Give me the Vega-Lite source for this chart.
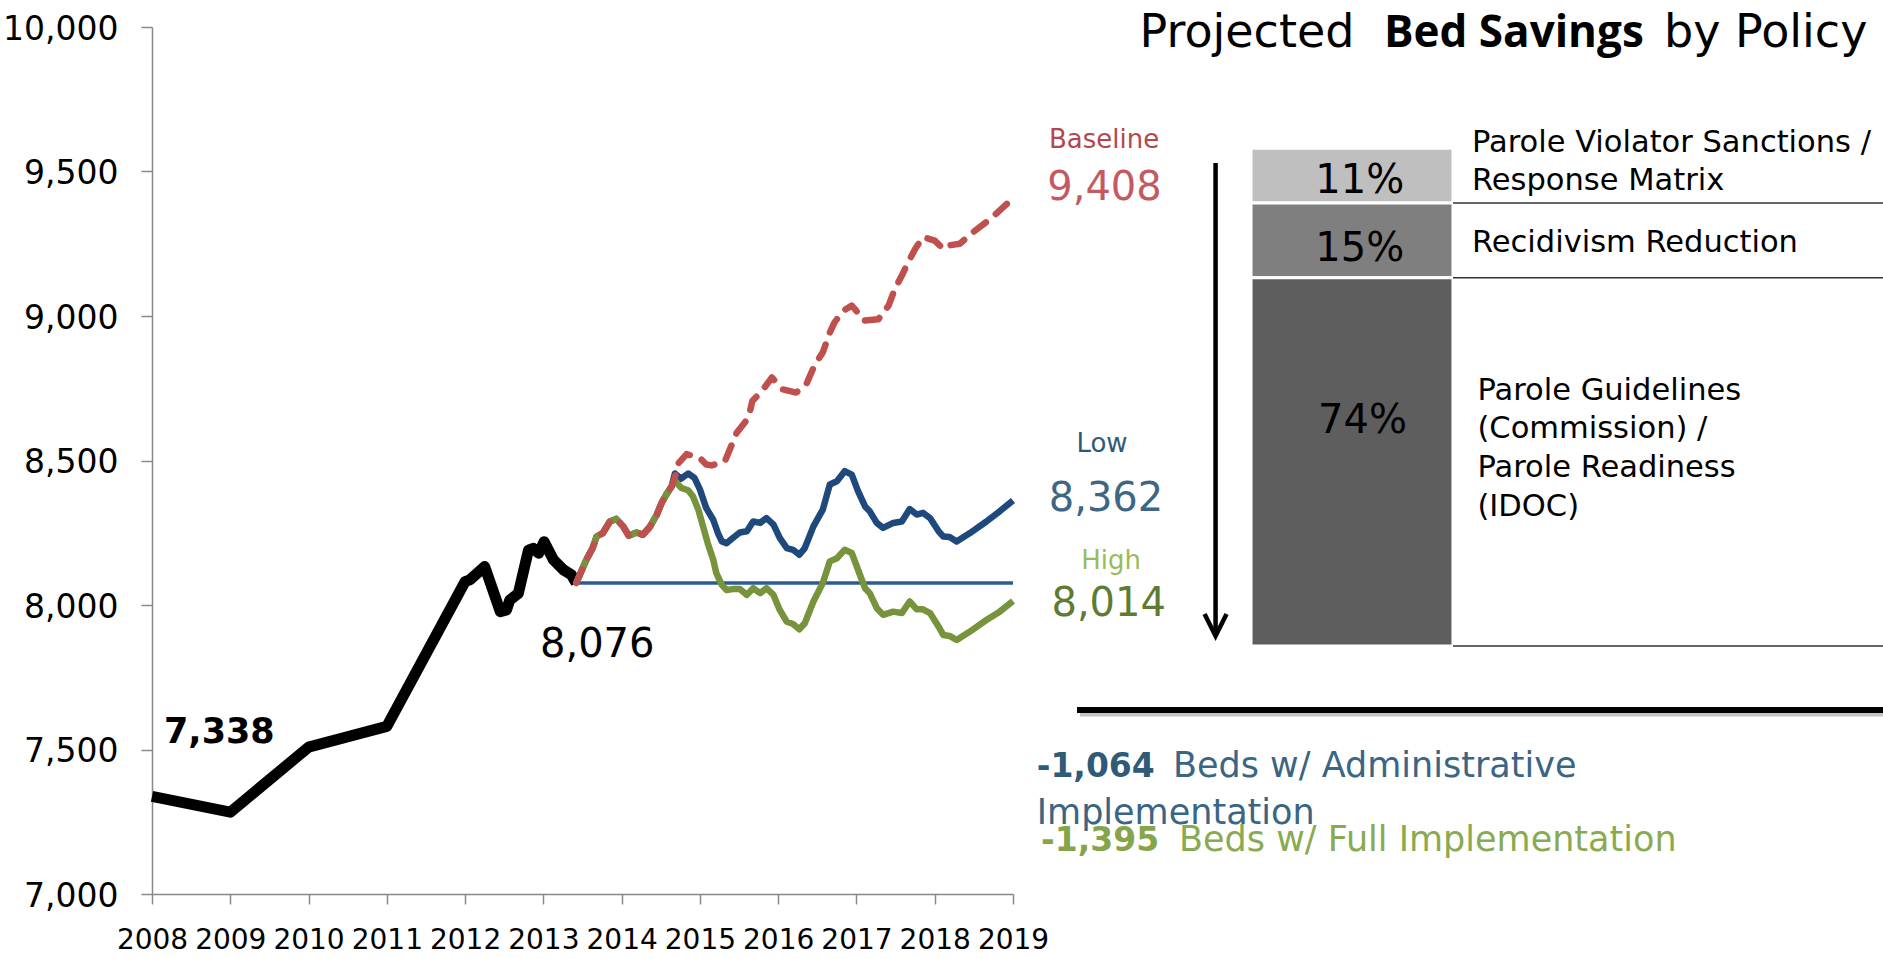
{
  "$schema": "https://vega.github.io/schema/vega-lite/v6.json",
  "width": 861,
  "height": 867,
  "autosize": {"type": "none"},
  "padding": {"left": 152, "top": 27, "right": 870, "bottom": 65},
  "background": "white",
  "config": {"view": {"stroke": null}, "font": "DejaVu Sans"},
  "datasets": {
    "history": [
      {"year": 2008, "beds": 7338}, {"year": 2009, "beds": 7283}, {"year": 2010, "beds": 7508}, {"year": 2011, "beds": 7580},
      {"year": 2012, "beds": 8081}, {"year": 2012.06, "beds": 8087}, {"year": 2012.25, "beds": 8133}, {"year": 2012.45, "beds": 7977},
      {"year": 2012.53, "beds": 7983}, {"year": 2012.57, "beds": 8017}, {"year": 2012.68, "beds": 8040}, {"year": 2012.81, "beds": 8190},
      {"year": 2012.87, "beds": 8196}, {"year": 2012.94, "beds": 8179}, {"year": 2013.01, "beds": 8219}, {"year": 2013.13, "beds": 8156},
      {"year": 2013.26, "beds": 8121}, {"year": 2013.36, "beds": 8104}, {"year": 2013.42, "beds": 8076}
    ],
    "current": [
      {"year": 2013.42, "beds": 8076}, {"year": 2019, "beds": 8076}
    ],
    "projection": [
      {"series": "Baseline", "year": 2013.42, "beds": 8076}, {"series": "Baseline", "year": 2013.55, "beds": 8157}, {"series": "Baseline", "year": 2013.63, "beds": 8197}, {"series": "Baseline", "year": 2013.68, "beds": 8237},
      {"series": "Baseline", "year": 2013.76, "beds": 8249}, {"series": "Baseline", "year": 2013.85, "beds": 8289}, {"series": "Baseline", "year": 2013.93, "beds": 8298}, {"series": "Baseline", "year": 2014.02, "beds": 8272},
      {"series": "Baseline", "year": 2014.09, "beds": 8240}, {"series": "Baseline", "year": 2014.19, "beds": 8251}, {"series": "Baseline", "year": 2014.27, "beds": 8243}, {"series": "Baseline", "year": 2014.36, "beds": 8270},
      {"series": "Baseline", "year": 2014.45, "beds": 8313}, {"series": "Baseline", "year": 2014.51, "beds": 8353}, {"series": "Baseline", "year": 2014.57, "beds": 8382}, {"series": "Baseline", "year": 2014.64, "beds": 8411},
      {"series": "Baseline", "year": 2014.68, "beds": 8440}, {"series": "Baseline", "year": 2014.72, "beds": 8489}, {"series": "Baseline", "year": 2014.83, "beds": 8522}, {"series": "Baseline", "year": 2015.0, "beds": 8509},
      {"series": "Baseline", "year": 2015.08, "beds": 8486}, {"series": "Baseline", "year": 2015.15, "beds": 8483}, {"series": "Baseline", "year": 2015.32, "beds": 8498}, {"series": "Baseline", "year": 2015.4, "beds": 8550},
      {"series": "Baseline", "year": 2015.47, "beds": 8596}, {"series": "Baseline", "year": 2015.62, "beds": 8648}, {"series": "Baseline", "year": 2015.67, "beds": 8706}, {"series": "Baseline", "year": 2015.79, "beds": 8740},
      {"series": "Baseline", "year": 2015.92, "beds": 8787}, {"series": "Baseline", "year": 2016.06, "beds": 8746}, {"series": "Baseline", "year": 2016.23, "beds": 8735}, {"series": "Baseline", "year": 2016.36, "beds": 8764},
      {"series": "Baseline", "year": 2016.47, "beds": 8833}, {"series": "Baseline", "year": 2016.57, "beds": 8874}, {"series": "Baseline", "year": 2016.66, "beds": 8943}, {"series": "Baseline", "year": 2016.72, "beds": 8978},
      {"series": "Baseline", "year": 2016.83, "beds": 9018}, {"series": "Baseline", "year": 2016.94, "beds": 9036}, {"series": "Baseline", "year": 2016.98, "beds": 9024}, {"series": "Baseline", "year": 2017.09, "beds": 8984},
      {"series": "Baseline", "year": 2017.28, "beds": 8989}, {"series": "Baseline", "year": 2017.41, "beds": 9036}, {"series": "Baseline", "year": 2017.49, "beds": 9093}, {"series": "Baseline", "year": 2017.58, "beds": 9140},
      {"series": "Baseline", "year": 2017.66, "beds": 9186}, {"series": "Baseline", "year": 2017.75, "beds": 9232}, {"series": "Baseline", "year": 2017.85, "beds": 9273}, {"series": "Baseline", "year": 2018.0, "beds": 9261},
      {"series": "Baseline", "year": 2018.11, "beds": 9232}, {"series": "Baseline", "year": 2018.17, "beds": 9244}, {"series": "Baseline", "year": 2018.32, "beds": 9250}, {"series": "Baseline", "year": 2018.49, "beds": 9290},
      {"series": "Baseline", "year": 2018.66, "beds": 9325}, {"series": "Baseline", "year": 2018.81, "beds": 9360}, {"series": "Baseline", "year": 2019.0, "beds": 9408},

      {"series": "Low", "year": 2013.42, "beds": 8076}, {"series": "Low", "year": 2013.55, "beds": 8157}, {"series": "Low", "year": 2013.63, "beds": 8197}, {"series": "Low", "year": 2013.68, "beds": 8237},
      {"series": "Low", "year": 2013.76, "beds": 8249}, {"series": "Low", "year": 2013.85, "beds": 8289}, {"series": "Low", "year": 2013.93, "beds": 8298}, {"series": "Low", "year": 2014.02, "beds": 8272},
      {"series": "Low", "year": 2014.09, "beds": 8240}, {"series": "Low", "year": 2014.19, "beds": 8251}, {"series": "Low", "year": 2014.27, "beds": 8243}, {"series": "Low", "year": 2014.36, "beds": 8270},
      {"series": "Low", "year": 2014.45, "beds": 8313}, {"series": "Low", "year": 2014.51, "beds": 8353}, {"series": "Low", "year": 2014.57, "beds": 8382}, {"series": "Low", "year": 2014.64, "beds": 8411},
      {"series": "Low", "year": 2014.68, "beds": 8455}, {"series": "Low", "year": 2014.76, "beds": 8437}, {"series": "Low", "year": 2014.85, "beds": 8455}, {"series": "Low", "year": 2014.93, "beds": 8440},
      {"series": "Low", "year": 2015.0, "beds": 8400}, {"series": "Low", "year": 2015.08, "beds": 8336}, {"series": "Low", "year": 2015.17, "beds": 8295}, {"series": "Low", "year": 2015.23, "beds": 8249},
      {"series": "Low", "year": 2015.28, "beds": 8220}, {"series": "Low", "year": 2015.34, "beds": 8214}, {"series": "Low", "year": 2015.42, "beds": 8232}, {"series": "Low", "year": 2015.51, "beds": 8251},
      {"series": "Low", "year": 2015.6, "beds": 8255}, {"series": "Low", "year": 2015.68, "beds": 8289}, {"series": "Low", "year": 2015.77, "beds": 8284}, {"series": "Low", "year": 2015.85, "beds": 8301},
      {"series": "Low", "year": 2015.94, "beds": 8278}, {"series": "Low", "year": 2016.02, "beds": 8232}, {"series": "Low", "year": 2016.11, "beds": 8197}, {"series": "Low", "year": 2016.19, "beds": 8191},
      {"series": "Low", "year": 2016.27, "beds": 8174}, {"series": "Low", "year": 2016.34, "beds": 8197}, {"series": "Low", "year": 2016.45, "beds": 8272}, {"series": "Low", "year": 2016.57, "beds": 8330},
      {"series": "Low", "year": 2016.66, "beds": 8417}, {"series": "Low", "year": 2016.75, "beds": 8428}, {"series": "Low", "year": 2016.85, "beds": 8463}, {"series": "Low", "year": 2016.94, "beds": 8451},
      {"series": "Low", "year": 2017.02, "beds": 8394}, {"series": "Low", "year": 2017.11, "beds": 8341}, {"series": "Low", "year": 2017.17, "beds": 8324}, {"series": "Low", "year": 2017.26, "beds": 8284},
      {"series": "Low", "year": 2017.34, "beds": 8267}, {"series": "Low", "year": 2017.47, "beds": 8284}, {"series": "Low", "year": 2017.58, "beds": 8289}, {"series": "Low", "year": 2017.68, "beds": 8332},
      {"series": "Low", "year": 2017.77, "beds": 8313}, {"series": "Low", "year": 2017.85, "beds": 8319}, {"series": "Low", "year": 2017.94, "beds": 8301}, {"series": "Low", "year": 2018.05, "beds": 8255},
      {"series": "Low", "year": 2018.11, "beds": 8237}, {"series": "Low", "year": 2018.19, "beds": 8235}, {"series": "Low", "year": 2018.28, "beds": 8220}, {"series": "Low", "year": 2018.45, "beds": 8249},
      {"series": "Low", "year": 2018.66, "beds": 8289}, {"series": "Low", "year": 2018.83, "beds": 8324}, {"series": "Low", "year": 2019.0, "beds": 8362},

      {"series": "High", "year": 2013.42, "beds": 8076}, {"series": "High", "year": 2013.55, "beds": 8157}, {"series": "High", "year": 2013.63, "beds": 8197}, {"series": "High", "year": 2013.68, "beds": 8237},
      {"series": "High", "year": 2013.76, "beds": 8249}, {"series": "High", "year": 2013.85, "beds": 8289}, {"series": "High", "year": 2013.93, "beds": 8298}, {"series": "High", "year": 2014.02, "beds": 8272},
      {"series": "High", "year": 2014.09, "beds": 8240}, {"series": "High", "year": 2014.19, "beds": 8251}, {"series": "High", "year": 2014.27, "beds": 8243}, {"series": "High", "year": 2014.36, "beds": 8270},
      {"series": "High", "year": 2014.45, "beds": 8313}, {"series": "High", "year": 2014.51, "beds": 8353}, {"series": "High", "year": 2014.57, "beds": 8382}, {"series": "High", "year": 2014.64, "beds": 8411},
      {"series": "High", "year": 2014.68, "beds": 8430}, {"series": "High", "year": 2014.76, "beds": 8405}, {"series": "High", "year": 2014.85, "beds": 8397}, {"series": "High", "year": 2014.91, "beds": 8376},
      {"series": "High", "year": 2014.98, "beds": 8330}, {"series": "High", "year": 2015.04, "beds": 8272}, {"series": "High", "year": 2015.1, "beds": 8214}, {"series": "High", "year": 2015.17, "beds": 8157},
      {"series": "High", "year": 2015.21, "beds": 8110}, {"series": "High", "year": 2015.28, "beds": 8070}, {"series": "High", "year": 2015.34, "beds": 8052}, {"series": "High", "year": 2015.42, "beds": 8055},
      {"series": "High", "year": 2015.51, "beds": 8055}, {"series": "High", "year": 2015.6, "beds": 8035}, {"series": "High", "year": 2015.68, "beds": 8058}, {"series": "High", "year": 2015.77, "beds": 8041},
      {"series": "High", "year": 2015.85, "beds": 8058}, {"series": "High", "year": 2015.94, "beds": 8035}, {"series": "High", "year": 2016.02, "beds": 7983}, {"series": "High", "year": 2016.11, "beds": 7942},
      {"series": "High", "year": 2016.19, "beds": 7934}, {"series": "High", "year": 2016.27, "beds": 7916}, {"series": "High", "year": 2016.34, "beds": 7937}, {"series": "High", "year": 2016.45, "beds": 8012},
      {"series": "High", "year": 2016.57, "beds": 8076}, {"series": "High", "year": 2016.66, "beds": 8151}, {"series": "High", "year": 2016.75, "beds": 8162}, {"series": "High", "year": 2016.85, "beds": 8191},
      {"series": "High", "year": 2016.94, "beds": 8180}, {"series": "High", "year": 2017.02, "beds": 8122}, {"series": "High", "year": 2017.11, "beds": 8058}, {"series": "High", "year": 2017.17, "beds": 8041},
      {"series": "High", "year": 2017.26, "beds": 7989}, {"series": "High", "year": 2017.34, "beds": 7966}, {"series": "High", "year": 2017.47, "beds": 7977}, {"series": "High", "year": 2017.58, "beds": 7972},
      {"series": "High", "year": 2017.68, "beds": 8012}, {"series": "High", "year": 2017.77, "beds": 7985}, {"series": "High", "year": 2017.85, "beds": 7985}, {"series": "High", "year": 2017.94, "beds": 7972},
      {"series": "High", "year": 2018.05, "beds": 7925}, {"series": "High", "year": 2018.11, "beds": 7896}, {"series": "High", "year": 2018.19, "beds": 7893}, {"series": "High", "year": 2018.28, "beds": 7879},
      {"series": "High", "year": 2018.45, "beds": 7908}, {"series": "High", "year": 2018.66, "beds": 7948}, {"series": "High", "year": 2018.83, "beds": 7977}, {"series": "High", "year": 2019.0, "beds": 8014}
    ],
    "policies": [
      {"policy": "Parole Violator Sanctions / Response Matrix", "label": ["Parole Violator Sanctions /", "Response Matrix"], "share": 0.11, "rank": 1},
      {"policy": "Recidivism Reduction", "label": ["Recidivism Reduction"], "share": 0.15, "rank": 2},
      {"policy": "Parole Guidelines (Commission) / Parole Readiness (IDOC)", "label": ["Parole Guidelines", "(Commission) /", "Parole Readiness", "(IDOC)"], "share": 0.74, "rank": 3}
    ],
    "anchor": [{}]
  },
  "layer": [
    {
      "encoding": {
        "x": {
          "field": "year", "type": "quantitative",
          "scale": {"domain": [2008, 2019], "nice": false, "zero": false},
          "axis": {
            "orient": "bottom",
            "values": [2008, 2009, 2010, 2011, 2012, 2013, 2014, 2015, 2016, 2017, 2018, 2019],
            "format": "d", "title": null, "grid": false,
            "labelFontSize": 28, "labelColor": "#000000", "labelPadding": 22, "labelFlush": false, "labelOverlap": false, "labelBound": false,
            "tickSize": 10, "tickColor": "#888888", "tickWidth": 1.5, "domainColor": "#888888", "domainWidth": 1.5
          }
        },
        "y": {
          "field": "beds", "type": "quantitative",
          "scale": {"domain": [7000, 10000], "nice": false, "zero": false},
          "axis": {
            "orient": "left",
            "values": [7000, 7500, 8000, 8500, 9000, 9500, 10000],
            "format": ",.0f", "title": null, "grid": false,
            "labelFontSize": 33, "labelColor": "#000000", "labelPadding": 23, "labelOffset": 2, "labelOverlap": false, "labelBound": false, "labelFlush": false,
            "tickSize": 11, "tickColor": "#888888", "tickWidth": 1.5, "domainColor": "#888888", "domainWidth": 1.5
          }
        }
      },
      "layer": [
        {"data": {"name": "current"}, "mark": {"type": "line", "color": "#2C5C94", "strokeWidth": 3.5}},
        {"data": {"name": "history"}, "mark": {"type": "line", "color": "#000000", "strokeWidth": 11, "strokeJoin": "round"}},
        {"data": {"name": "projection"}, "transform": [{"filter": "datum.series == 'Low'"}], "mark": {"type": "line", "color": "#1F497D", "strokeWidth": 6.5, "strokeJoin": "round"}},
        {"data": {"name": "projection"}, "transform": [{"filter": "datum.series == 'High'"}], "mark": {"type": "line", "color": "#77933C", "strokeWidth": 6.5, "strokeJoin": "round"}},
        {"data": {"name": "projection"}, "transform": [{"filter": "datum.series == 'Baseline'"}], "mark": {"type": "line", "color": "#C0504D", "strokeWidth": 6.5, "strokeDash": [15, 13], "strokeCap": "round", "strokeJoin": "round"}},
        {"data": {"name": "history"}, "transform": [{"filter": "datum.year == 2008"}],
         "mark": {"type": "text", "fontSize": 35, "fontWeight": "bold", "align": "left", "baseline": "alphabetic", "dx": 12, "dy": -53, "color": "#000000"},
         "encoding": {"text": {"field": "beds", "format": ","}}},
        {"data": {"name": "current"}, "transform": [{"filter": "datum.year == 2013.42"}],
         "mark": {"type": "text", "fontSize": 40, "align": "center", "baseline": "alphabetic", "dx": 21, "dy": 74, "color": "#000000"},
         "encoding": {"text": {"field": "beds", "format": ","}}},
        {"data": {"name": "projection"}, "transform": [{"filter": "datum.series == 'Baseline' && datum.year == 2019"}],
         "mark": {"type": "text", "fontSize": 26, "align": "center", "baseline": "alphabetic", "dx": 91, "dy": -50, "color": "#B4474C"},
         "encoding": {"text": {"field": "series"}}},
        {"data": {"name": "projection"}, "transform": [{"filter": "datum.series == 'Baseline' && datum.year == 2019"}],
         "mark": {"type": "text", "fontSize": 40, "align": "center", "baseline": "alphabetic", "dx": 91.5, "dy": 2, "color": "#C45A5F"},
         "encoding": {"text": {"field": "beds", "format": ","}}},
        {"data": {"name": "projection"}, "transform": [{"filter": "datum.series == 'Low' && datum.year == 2019"}],
         "mark": {"type": "text", "fontSize": 26, "align": "center", "baseline": "alphabetic", "dx": 89, "dy": -48, "color": "#2E5A78"},
         "encoding": {"text": {"field": "series"}}},
        {"data": {"name": "projection"}, "transform": [{"filter": "datum.series == 'Low' && datum.year == 2019"}],
         "mark": {"type": "text", "fontSize": 40, "align": "center", "baseline": "alphabetic", "dx": 93, "dy": 11, "color": "#3D6684"},
         "encoding": {"text": {"field": "beds", "format": ","}}},
        {"data": {"name": "projection"}, "transform": [{"filter": "datum.series == 'High' && datum.year == 2019"}],
         "mark": {"type": "text", "fontSize": 26, "align": "center", "baseline": "alphabetic", "dx": 98, "dy": -31.5, "color": "#9BBB59"},
         "encoding": {"text": {"field": "series"}}},
        {"data": {"name": "projection"}, "transform": [{"filter": "datum.series == 'High' && datum.year == 2019"}],
         "mark": {"type": "text", "fontSize": 40, "align": "center", "baseline": "alphabetic", "dx": 95.7, "dy": 15.5, "color": "#5E7B33"},
         "encoding": {"text": {"field": "beds", "format": ","}}}
      ]
    },
    {
      "layer": [
        {
          "data": {"name": "policies"},
          "transform": [{"stack": "share", "groupby": [], "sort": [{"field": "rank", "order": "ascending"}], "as": ["p0", "p1"]}],
          "layer": [
            {
              "mark": {"type": "bar", "stroke": "#FFFFFF", "strokeWidth": 3},
              "encoding": {
                "x": {"datum": 2022.041, "type": "quantitative", "scale": {"domain": [2008, 2019], "nice": false, "zero": false}, "axis": null},
                "x2": {"datum": 2024.621},
                "y": {"field": "p0", "type": "quantitative", "scale": {"domain": [-0.24373, 1.49828], "reverse": true, "nice": false, "zero": false}, "axis": null},
                "y2": {"field": "p1"},
                "color": {"field": "rank", "type": "ordinal", "scale": {"domain": [1, 2, 3], "range": ["#BFBFBF", "#7F7F7F", "#5E5E5E"]}, "legend": null}
              }
            },
            {
              "transform": [{"filter": "datum.rank == 1"}],
              "mark": {"type": "text", "fontSize": 40, "align": "center", "baseline": "alphabetic", "dy": -10, "color": "#000000"},
              "encoding": {
                "x": {"datum": 2023.431, "type": "quantitative", "scale": {"domain": [2008, 2019], "nice": false, "zero": false}, "axis": null},
                "y": {"field": "p1", "type": "quantitative", "scale": {"domain": [-0.24373, 1.49828], "reverse": true, "nice": false, "zero": false}, "axis": null},
                "text": {"field": "share", "format": ".0%"}
              }
            },
            {
              "transform": [{"filter": "datum.rank == 2"}],
              "mark": {"type": "text", "fontSize": 40, "align": "center", "baseline": "alphabetic", "dy": -17, "color": "#000000"},
              "encoding": {
                "x": {"datum": 2023.431, "type": "quantitative", "scale": {"domain": [2008, 2019], "nice": false, "zero": false}, "axis": null},
                "y": {"field": "p1", "type": "quantitative", "scale": {"domain": [-0.24373, 1.49828], "reverse": true, "nice": false, "zero": false}, "axis": null},
                "text": {"field": "share", "format": ".0%"}
              }
            },
            {
              "transform": [{"filter": "datum.rank == 3"}],
              "mark": {"type": "text", "fontSize": 40, "align": "center", "baseline": "alphabetic", "dy": -213, "color": "#000000"},
              "encoding": {
                "x": {"datum": 2023.465, "type": "quantitative", "scale": {"domain": [2008, 2019], "nice": false, "zero": false}, "axis": null},
                "y": {"field": "p1", "type": "quantitative", "scale": {"domain": [-0.24373, 1.49828], "reverse": true, "nice": false, "zero": false}, "axis": null},
                "text": {"field": "share", "format": ".0%"}
              }
            },
            {
              "mark": {"type": "rule", "color": "#333333", "strokeWidth": 1.5},
              "encoding": {
                "x": {"datum": 2024.621, "type": "quantitative", "scale": {"domain": [2008, 2019], "nice": false, "zero": false}, "axis": null},
                "x2": {"datum": 2030.115},
                "y": {"field": "p1", "type": "quantitative", "scale": {"domain": [-0.24373, 1.49828], "reverse": true, "nice": false, "zero": false}, "axis": null}
              }
            },
            {
              "transform": [{"filter": "datum.rank == 1"}],
              "mark": {"type": "text", "fontSize": 30.5, "align": "left", "baseline": "alphabetic", "dy": -51.2, "lineHeight": 38, "color": "#000000"},
              "encoding": {
                "x": {"datum": 2024.864, "type": "quantitative", "scale": {"domain": [2008, 2019], "nice": false, "zero": false}, "axis": null},
                "y": {"field": "p1", "type": "quantitative", "scale": {"domain": [-0.24373, 1.49828], "reverse": true, "nice": false, "zero": false}, "axis": null},
                "text": {"field": "label"}
              }
            },
            {
              "transform": [{"filter": "datum.rank == 2"}],
              "mark": {"type": "text", "fontSize": 30.5, "align": "left", "baseline": "alphabetic", "dy": -25.7, "lineHeight": 38, "color": "#000000"},
              "encoding": {
                "x": {"datum": 2024.864, "type": "quantitative", "scale": {"domain": [2008, 2019], "nice": false, "zero": false}, "axis": null},
                "y": {"field": "p1", "type": "quantitative", "scale": {"domain": [-0.24373, 1.49828], "reverse": true, "nice": false, "zero": false}, "axis": null},
                "text": {"field": "label"}
              }
            },
            {
              "transform": [{"filter": "datum.rank == 3"}],
              "mark": {"type": "text", "fontSize": 30.5, "align": "left", "baseline": "alphabetic", "dy": -246.5, "lineHeight": 38.7, "color": "#000000"},
              "encoding": {
                "x": {"datum": 2024.934, "type": "quantitative", "scale": {"domain": [2008, 2019], "nice": false, "zero": false}, "axis": null},
                "y": {"field": "p1", "type": "quantitative", "scale": {"domain": [-0.24373, 1.49828], "reverse": true, "nice": false, "zero": false}, "axis": null},
                "text": {"field": "label"}
              }
            }
          ]
        },
        {
          "data": {"name": "anchor"},
          "layer": [
            {
              "mark": {"type": "rule", "color": "#000000", "strokeWidth": 4.5},
              "encoding": {
                "x": {"datum": 2021.588, "type": "quantitative", "scale": {"domain": [2008, 2019], "nice": false, "zero": false}, "axis": null},
                "y": {"datum": 0.02954, "type": "quantitative", "scale": {"domain": [-0.24373, 1.49828], "reverse": true, "nice": false, "zero": false}, "axis": null},
                "y2": {"datum": 0.97991}
              }
            },
            {
              "mark": {"type": "point", "shape": "M-1,-2L0,0L1,-2", "size": 484, "filled": false, "stroke": "#000000", "strokeWidth": 4.5, "opacity": 1, "strokeJoin": "miter"},
              "encoding": {
                "x": {"datum": 2021.588, "type": "quantitative", "scale": {"domain": [2008, 2019], "nice": false, "zero": false}, "axis": null},
                "y": {"datum": 0.97991, "type": "quantitative", "scale": {"domain": [-0.24373, 1.49828], "reverse": true, "nice": false, "zero": false}, "axis": null}
              }
            },
            {
              "mark": {"type": "rule", "color": "#C4C4C4", "strokeWidth": 6},
              "encoding": {
                "x": {"datum": 2019.856, "type": "quantitative", "scale": {"domain": [2008, 2019], "nice": false, "zero": false}, "axis": null},
                "x2": {"datum": 2030.115},
                "y": {"datum": 1.13562, "type": "quantitative", "scale": {"domain": [-0.24373, 1.49828], "reverse": true, "nice": false, "zero": false}, "axis": null}
              }
            },
            {
              "mark": {"type": "rule", "color": "#000000", "strokeWidth": 6},
              "encoding": {
                "x": {"datum": 2019.818, "type": "quantitative", "scale": {"domain": [2008, 2019], "nice": false, "zero": false}, "axis": null},
                "x2": {"datum": 2030.115},
                "y": {"datum": 1.12859, "type": "quantitative", "scale": {"domain": [-0.24373, 1.49828], "reverse": true, "nice": false, "zero": false}, "axis": null}
              }
            },
            {
              "mark": {"type": "text", "text": "Projected", "fontSize": 46, "align": "left", "baseline": "alphabetic", "color": "#000000"},
              "encoding": {
                "x": {"datum": 2020.617, "type": "quantitative", "scale": {"domain": [2008, 2019], "nice": false, "zero": false}, "axis": null},
                "y": {"datum": -0.20354, "type": "quantitative", "scale": {"domain": [-0.24373, 1.49828], "reverse": true, "nice": false, "zero": false}, "axis": null}
              }
            },
            {
              "mark": {"type": "text", "text": "Bed Savings", "font": "Open Sans", "fontWeight": "bold", "fontSize": 44, "align": "left", "baseline": "alphabetic", "color": "#000000"},
              "encoding": {
                "x": {"datum": 2023.74, "type": "quantitative", "scale": {"domain": [2008, 2019], "nice": false, "zero": false}, "axis": null},
                "y": {"datum": -0.20354, "type": "quantitative", "scale": {"domain": [-0.24373, 1.49828], "reverse": true, "nice": false, "zero": false}, "axis": null}
              }
            },
            {
              "mark": {"type": "text", "text": "by Policy", "fontSize": 46, "align": "left", "baseline": "alphabetic", "color": "#000000"},
              "encoding": {
                "x": {"datum": 2027.317, "type": "quantitative", "scale": {"domain": [2008, 2019], "nice": false, "zero": false}, "axis": null},
                "y": {"datum": -0.20354, "type": "quantitative", "scale": {"domain": [-0.24373, 1.49828], "reverse": true, "nice": false, "zero": false}, "axis": null}
              }
            },
            {
              "mark": {"type": "text", "text": "-1,064", "fontSize": 33, "fontWeight": "bold", "align": "left", "baseline": "alphabetic", "color": "#2F5A78"},
              "encoding": {
                "x": {"datum": 2019.303, "type": "quantitative", "scale": {"domain": [2008, 2019], "nice": false, "zero": false}, "axis": null},
                "y": {"datum": 1.26321, "type": "quantitative", "scale": {"domain": [-0.24373, 1.49828], "reverse": true, "nice": false, "zero": false}, "axis": null}
              }
            },
            {
              "mark": {"type": "text", "text": "Beds w/ Administrative", "fontSize": 35, "align": "left", "baseline": "alphabetic", "color": "#3A6583"},
              "encoding": {
                "x": {"datum": 2021.044, "type": "quantitative", "scale": {"domain": [2008, 2019], "nice": false, "zero": false}, "axis": null},
                "y": {"datum": 1.26321, "type": "quantitative", "scale": {"domain": [-0.24373, 1.49828], "reverse": true, "nice": false, "zero": false}, "axis": null}
              }
            },
            {
              "mark": {"type": "text", "text": "Implementation", "fontSize": 35, "align": "left", "baseline": "alphabetic", "color": "#3A6583"},
              "encoding": {
                "x": {"datum": 2019.303, "type": "quantitative", "scale": {"domain": [2008, 2019], "nice": false, "zero": false}, "axis": null},
                "y": {"datum": 1.35664, "type": "quantitative", "scale": {"domain": [-0.24373, 1.49828], "reverse": true, "nice": false, "zero": false}, "axis": null}
              }
            },
            {
              "mark": {"type": "text", "text": "-1,395", "fontSize": 33, "fontWeight": "bold", "align": "left", "baseline": "alphabetic", "color": "#86A54B"},
              "encoding": {
                "x": {"datum": 2019.358, "type": "quantitative", "scale": {"domain": [2008, 2019], "nice": false, "zero": false}, "axis": null},
                "y": {"datum": 1.41089, "type": "quantitative", "scale": {"domain": [-0.24373, 1.49828], "reverse": true, "nice": false, "zero": false}, "axis": null}
              }
            },
            {
              "mark": {"type": "text", "text": "Beds w/ Full Implementation", "fontSize": 35, "align": "left", "baseline": "alphabetic", "color": "#8AAA52"},
              "encoding": {
                "x": {"datum": 2021.121, "type": "quantitative", "scale": {"domain": [2008, 2019], "nice": false, "zero": false}, "axis": null},
                "y": {"datum": 1.41089, "type": "quantitative", "scale": {"domain": [-0.24373, 1.49828], "reverse": true, "nice": false, "zero": false}, "axis": null}
              }
            }
          ]
        }
      ]
    }
  ],
  "resolve": {"scale": {"x": "independent", "y": "independent"}}
}
